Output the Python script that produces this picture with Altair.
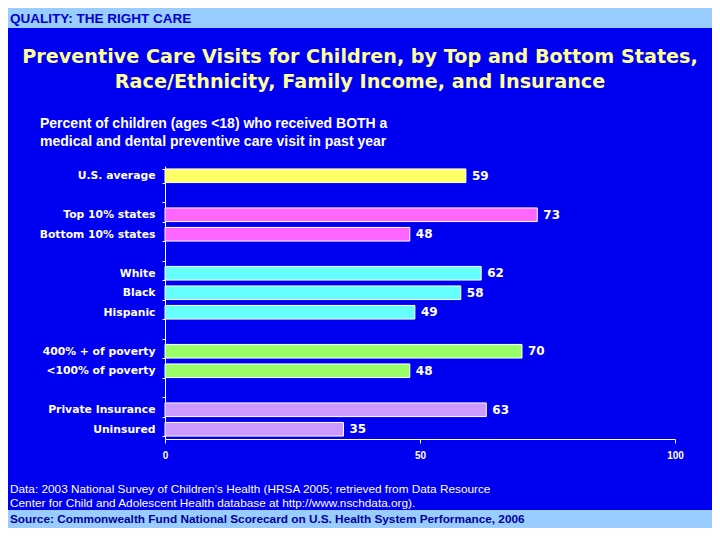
import altair as alt
import pandas as pd

# ---- data ----
rows = ["U.S. average", " ", "Top 10% states", "Bottom 10% states", "  ",
        "White", "Black", "Hispanic", "   ",
        "400% + of poverty", "<100% of poverty", "    ",
        "Private Insurance", "Uninsured"]
categories = ["U.S. average", "Top 10% states", "Bottom 10% states",
              "White", "Black", "Hispanic",
              "400% + of poverty", "<100% of poverty",
              "Private Insurance", "Uninsured"]
values = [59, 73, 48, 62, 58, 49, 70, 48, 63, 35]
groups = ["US", "States", "States", "Race", "Race", "Race",
          "Income", "Income", "Insurance", "Insurance"]
group_names = ["US", "States", "Race", "Income", "Insurance"]
group_colors = ["#FFFF66", "#FF66FF", "#66FFFF", "#99FF66", "#CC99FF"]

df = pd.DataFrame({"category": categories, "value": values, "group": groups})

BG = "#0000F0"
BAND = "#99CCFF"
FONT = "Liberation Sans"

y_enc = alt.Y("category:N", sort=rows,
              scale=alt.Scale(domain=rows, paddingInner=0.3, paddingOuter=0.15),
              axis=alt.Axis(title=None, labelColor="white", labelFont="DejaVu Sans",
                            labelFontWeight="bold", labelFontSize=10.8,
                            labelPadding=7, domainColor="white", tickColor="white",
                            tickBand="extent", tickSize=3, grid=False))
x_enc = alt.X("value:Q", scale=alt.Scale(domain=[0, 100], nice=False),
              axis=alt.Axis(title=None, values=[0, 50, 100], labelColor="white",
                            labelFont=FONT, labelFontWeight="bold", labelFontSize=10,
                            labelPadding=7, labelFlush=False, domainColor="white",
                            tickColor="white", tickSize=4, grid=False))

bars = alt.Chart(df).mark_bar(stroke="white", strokeWidth=1).encode(
    x=x_enc, y=y_enc,
    color=alt.Color("group:N", scale=alt.Scale(domain=group_names, range=group_colors),
                    legend=None))

labels = alt.Chart(df).mark_text(align="left", baseline="middle", dx=6,
                                 color="white", font="DejaVu Sans", fontWeight="bold",
                                 fontSize=12).encode(
    x="value:Q", y=alt.Y("category:N", sort=rows), text="value:Q")


def txt(s, x, y, size, color, weight="normal", align="left", font=FONT):
    return alt.Chart().mark_text(text=s, align=align, baseline="middle",
                                 fontSize=size, color=color, fontWeight=weight,
                                 font=font).encode(x=alt.value(x), y=alt.value(y))


top_band = alt.Chart().mark_rect(color=BAND).encode(
    x=alt.value(-165), x2=alt.value(555), y=alt.value(-166), y2=alt.value(-138))
bottom_band = alt.Chart().mark_rect(color=BAND).encode(
    x=alt.value(-165), x2=alt.value(555), y=alt.value(344), y2=alt.value(370))

layers = [
    top_band, bottom_band, bars, labels,
    txt("QUALITY: THE RIGHT CARE", -155, -147, 13.5, "#0000CC", "bold"),
    txt("Preventive Care Visits for Children, by Top and Bottom States,", 195, -109,
        19.2, "#FFFF99", "bold", "center", "DejaVu Sans"),
    txt("Race/Ethnicity, Family Income, and Insurance", 195, -84,
        19.2, "#FFFF99", "bold", "center", "DejaVu Sans"),
    txt("Percent of children (ages <18) who received BOTH a", -125, -42, 14, "white", "bold"),
    txt("medical and dental preventive care visit in past year", -125, -24, 14, "white", "bold"),
    txt("Data: 2003 National Survey of Children\u2019s Health (HRSA 2005; retrieved from Data Resource",
        -155, 323, 11.8, "white"),
    txt("Center for Child and Adolescent Health database at http://www.nschdata.org).",
        -155, 337, 11.8, "white"),
    txt("Source: Commonwealth Fund National Scorecard on U.S. Health System Performance, 2006",
        -155, 353, 11.8, "#000099", "bold"),
]

chart = alt.layer(*layers).properties(
    width=510, height=273,
    autosize=alt.AutoSizeParams(type="none"),
    padding={"left": 157, "top": 158, "right": 37, "bottom": 89},
    background=BG,
).configure_view(stroke=None)

chart.save("out.html", embed_options={"renderer": "svg", "actions": False})
